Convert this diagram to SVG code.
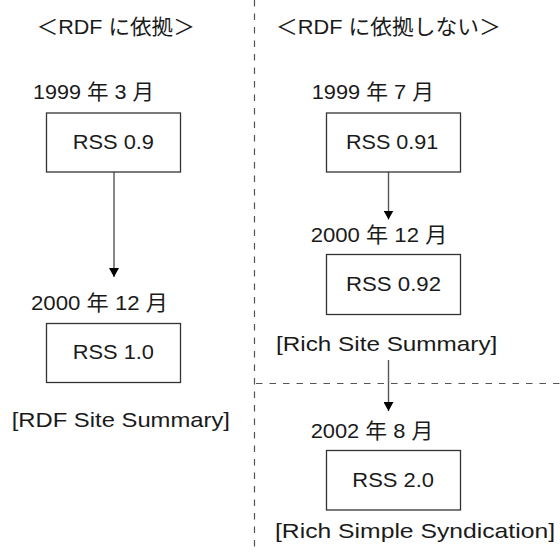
<svg xmlns="http://www.w3.org/2000/svg" width="560" height="552" viewBox="0 0 560 552">
<style>
text{font-family:"Liberation Sans","Noto Sans CJK JP",sans-serif;font-size:21px;fill:#1a1a1a}
.box{fill:#fff;stroke:#333;stroke-width:1.3}
.conn{stroke:#555;stroke-width:1.4;fill:none}
.div{stroke:#555;stroke-width:1.2;stroke-dasharray:6.5,7;fill:none}
</style>
<defs>
<marker id="arr" viewBox="0 0 9 10" refX="9" refY="5" markerWidth="9" markerHeight="10" markerUnits="userSpaceOnUse" orient="auto">
<path d="M0,0 L9,5 L0,10 z" fill="#000"/>
</marker>
</defs>
<rect width="560" height="552" fill="#fff"/>
<g id="dividers">
<line class="div" x1="254.5" y1="0" x2="254.5" y2="552"/>
<line class="div" x1="256" y1="383.5" x2="560" y2="383.5"/>
</g>
<g id="headings">
<text x="36.7" y="34" textLength="158" lengthAdjust="spacingAndGlyphs">＜RDF に依拠＞</text>
<text x="276" y="34" textLength="224.7" lengthAdjust="spacingAndGlyphs">＜RDF に依拠しない＞</text>
</g>
<g id="connectors">
<line class="conn" x1="114" y1="172" x2="114" y2="277" marker-end="url(#arr)"/>
<line class="conn" x1="388.5" y1="172" x2="388.5" y2="219.5" marker-end="url(#arr)"/>
<line class="conn" x1="388.5" y1="360" x2="388.5" y2="411" marker-end="url(#arr)"/>
</g>
<g id="rss09">
<text x="33" y="99" textLength="121" lengthAdjust="spacingAndGlyphs">1999 年 3 月</text>
<rect class="box" x="46.5" y="113" width="134" height="59"/>
<text x="72.7" y="149" textLength="81.3" lengthAdjust="spacingAndGlyphs">RSS 0.9</text>
</g>
<g id="rss10">
<text x="31" y="310" textLength="137" lengthAdjust="spacingAndGlyphs">2000 年 12 月</text>
<rect class="box" x="46.5" y="323.5" width="134" height="59"/>
<text x="72.7" y="359.3" textLength="81.3" lengthAdjust="spacingAndGlyphs">RSS 1.0</text>
<text x="11.7" y="426.7" textLength="218.3" lengthAdjust="spacingAndGlyphs">[RDF Site Summary]</text>
</g>
<g id="rss091">
<text x="311.7" y="99" textLength="122.3" lengthAdjust="spacingAndGlyphs">1999 年 7 月</text>
<rect class="box" x="326.5" y="113" width="134" height="59"/>
<text x="346" y="149" textLength="92.3" lengthAdjust="spacingAndGlyphs">RSS 0.91</text>
</g>
<g id="rss092">
<text x="310.7" y="242.3" textLength="136.6" lengthAdjust="spacingAndGlyphs">2000 年 12 月</text>
<rect class="box" x="326.5" y="254.5" width="134" height="60"/>
<text x="346" y="290.7" textLength="95" lengthAdjust="spacingAndGlyphs">RSS 0.92</text>
<text x="276" y="350.7" textLength="221.3" lengthAdjust="spacingAndGlyphs">[Rich Site Summary]</text>
</g>
<g id="rss20">
<text x="310.7" y="438.3" textLength="122.6" lengthAdjust="spacingAndGlyphs">2002 年 8 月</text>
<rect class="box" x="326.5" y="450.5" width="134" height="59.5"/>
<text x="352.3" y="487.3" textLength="81.7" lengthAdjust="spacingAndGlyphs">RSS 2.0</text>
<text x="275" y="538.3" textLength="280" lengthAdjust="spacingAndGlyphs">[Rich Simple Syndication]</text>
</g>
</svg>
